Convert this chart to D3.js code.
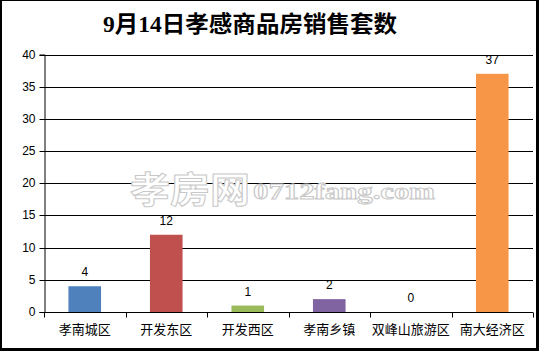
<!DOCTYPE html>
<html><head><meta charset="utf-8">
<script src="https://cdn.jsdelivr.net/npm/d3@7"></script>
<style>html,body{margin:0;padding:0;background:#fff;}svg{display:block;}</style>
</head><body>
<svg id="c" width="539" height="351"></svg>
<script>
const categories = ["孝南城区","开发东区","开发西区","孝南乡镇","双峰山旅游区","南大经济区"];
const values = [4, 12, 1, 2, 0, 37];
const colors = ["#4F81BD","#C0504D","#9BBB59","#8064A2","#4BACC6","#F79646"];
const yTicks = [0,5,10,15,20,25,30,35,40];
const title = "9月14日孝感商品房销售套数";

(function(){
const svg = d3.select("#c");
svg.append("rect").attr("x",0).attr("y",0).attr("width",539).attr("height",351).attr("fill","#000");
svg.append("rect").attr("x",2).attr("y",1).attr("width",534).attr("height",347).attr("fill","#fff");

const mL = 44, mR = 533, mT = 54.5, mB = 312;
const x = d3.scaleBand().domain(categories).range([mL, mR]).paddingInner(0.6).paddingOuter(0.3);
const xb = d3.scaleBand().domain(categories).range([mL, mR]);
const y = d3.scaleLinear().domain([0,40]).range([mB, mT]);

// gridlines
svg.append("g").selectAll("line").data(yTicks.filter(d=>d>0)).join("line")
  .attr("x1",mL).attr("x2",mR)
  .attr("y1",d=>Math.round(y(d))+0.5).attr("y2",d=>Math.round(y(d))+0.5)
  .attr("stroke","#000").attr("stroke-width",1);

// y axis
const ya = svg.append("g").attr("transform",`translate(${mL+0.5},0)`)
  .call(d3.axisLeft(y).tickValues(yTicks).tickSize(5).tickPadding(4));
ya.select(".domain").attr("stroke","#000");
ya.selectAll(".tick line").attr("stroke","#000");
ya.selectAll(".tick").attr("transform",d=>`translate(0,${Math.round(y(d))+0.5})`);
ya.selectAll("text").attr("font-family","Liberation Sans, Arial, sans-serif").attr("font-size","12px").attr("fill","#000");

// bars
svg.append("g").selectAll("rect").data(categories).join("rect")
  .attr("x",d=>x(d)).attr("width",x.bandwidth())
  .attr("y",(d,i)=>y(values[i])).attr("height",(d,i)=>mB - y(values[i]))
  .attr("fill",(d,i)=>colors[i]);

// value labels
svg.append("g").selectAll("text").data(categories).join("text")
  .attr("x",d=>x(d)+x.bandwidth()/2).attr("y",(d,i)=>y(values[i])-10)
  .attr("text-anchor","middle")
  .attr("font-family","Liberation Sans, Arial, sans-serif").attr("font-size","12px")
  .text((d,i)=>values[i]);

// x axis
const xa = svg.append("g").attr("transform",`translate(0,${mB+0.5})`);
xa.append("line").attr("x1",mL).attr("x2",mR).attr("stroke","#000");
const xtickPos = categories.map(c=>xb(c)).concat([mR]);
xa.selectAll("line.t").data(xtickPos).join("line").attr("class","t")
  .attr("x1",d=>Math.round(d)+0.5).attr("x2",d=>Math.round(d)+0.5).attr("y1",0).attr("y2",5).attr("stroke","#000");
xa.selectAll("text").data(categories).join("text")
  .attr("x",d=>xb(d)+xb.bandwidth()/2).attr("y",21)
  .attr("text-anchor","middle")
  .attr("font-family","Noto Sans CJK SC, sans-serif").attr("font-size","13px")
  .text(d=>d);

// watermark
const wm = svg.append("g").attr("fill","#fff").attr("stroke","#c8c8c8").attr("stroke-width",1);
wm.append("text").attr("x",130).attr("y",203).attr("font-family","Noto Sans CJK SC, sans-serif")
  .attr("font-size","36px").attr("font-weight","700").attr("textLength",120).attr("lengthAdjust","spacingAndGlyphs").text("孝房网");
wm.append("text").attr("x",253).attr("y",199).attr("font-family","Liberation Serif, serif")
  .attr("font-size","24px").attr("font-weight","700").attr("textLength",182).attr("lengthAdjust","spacingAndGlyphs").text("0712fang.com");

// title
svg.append("text").attr("x",250).attr("y",32).attr("text-anchor","middle")
  .attr("font-family","Liberation Serif, Noto Sans CJK SC, serif")
  .attr("font-size","23px").attr("font-weight","700")
  .attr("textLength",294).attr("lengthAdjust","spacingAndGlyphs")
  .text(title);
})();
</script>
</body></html>
